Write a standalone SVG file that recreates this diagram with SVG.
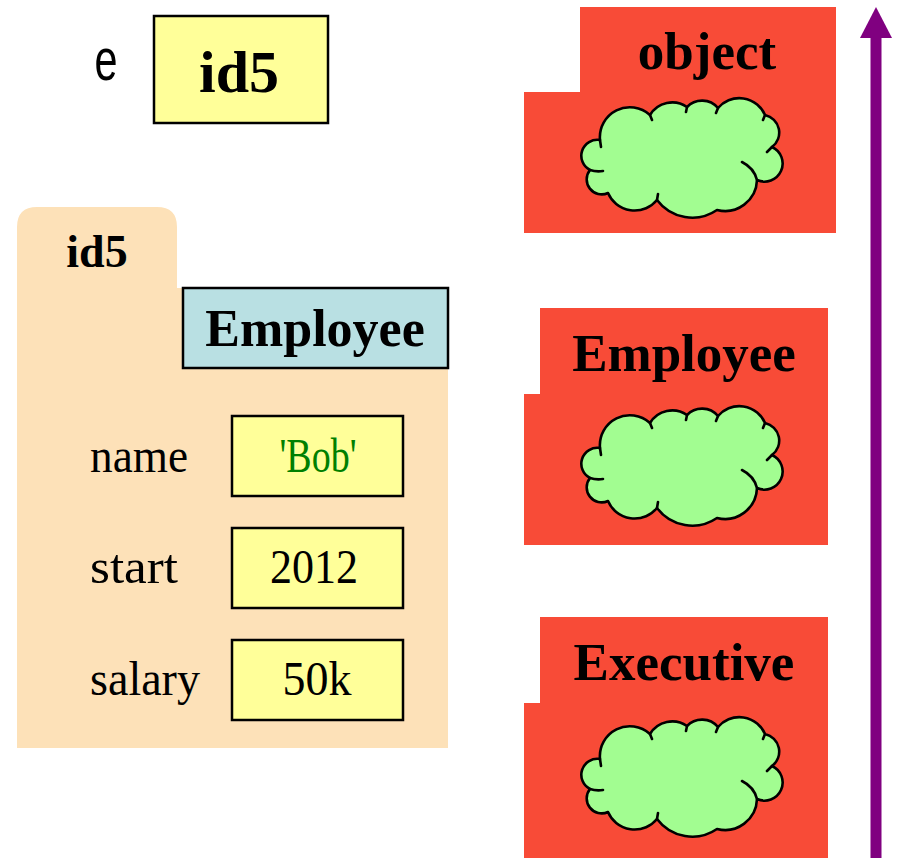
<svg xmlns="http://www.w3.org/2000/svg" xmlns:xlink="http://www.w3.org/1999/xlink" width="899" height="858" viewBox="0 0 899 858">
<style>
.bold{font-family:"Liberation Serif","Times New Roman",serif;font-weight:bold;fill:#000;text-anchor:middle}
.tw{font-family:"Liberation Serif","Times New Roman",serif;font-size:48px;fill:#000}
.val{fill:#FFFF99;stroke:#000;stroke-width:2.5}
.cls{fill:#F84B37}
.cloud{fill:#A2FD91;stroke:#000;stroke-width:2.6;stroke-linejoin:round}
.tick{fill:none;stroke:#000;stroke-width:2.6;stroke-linecap:round}
</style>
<defs>
<g id="cloudShape">
<path class="cloud" d="M20,42 A30,30 0 0 1 70,17 A26,26 0 0 1 107,9 A21,21 0 0 1 138,10 A28,28 0 0 1 185,17 A18,18 0 0 1 192,49 A18,18 0 0 1 177,82 A32,32 0 0 1 137,112 A44,44 0 0 1 77,102 A29,29 0 0 1 28,95 A15,15 0 0 1 10,72 A16,16 0 0 1 20,42 Z"/>
<path class="tick" d="M10,72 Q16,74 23,73 M162,64 Q174,70 177,82 M70,17 L72,22 M107,9 L106,14 M138,10 L136,15 M185,17 L183,22 M77,102 L78,96 M192,49 L187,54 M20,42 L21,49"/>
</g>
</defs>

<g id="var-e">
<text x="106" y="80" font-family="'Liberation Sans',Arial,sans-serif" font-size="60" text-anchor="middle" textLength="23" lengthAdjust="spacingAndGlyphs">e</text>
<rect x="154" y="16" width="174" height="107" fill="#FFFF99" stroke="#000" stroke-width="2.5"/>
<text class="bold" x="239" y="92" font-size="60">id5</text>
</g>

<g id="folder-id5">
<path d="M17,748 L17,227 Q17,207 37,207 L157,207 Q177,207 177,227 L177,288 L448,288 L448,748 Z" fill="#FDE1B8"/>
<text class="bold" x="97" y="267" font-size="46">id5</text>
<rect x="183" y="288" width="265" height="80" fill="#B9E0E3" stroke="#000" stroke-width="2.5"/>
<text class="bold" x="315" y="346" font-size="52">Employee</text>
</g>

<g id="field-name">
<text class="tw" x="90" y="472" textLength="98" lengthAdjust="spacingAndGlyphs">name</text>
<rect class="val" x="232" y="416" width="171" height="80"/>
<text class="tw" x="318" y="472" text-anchor="middle" style="fill:#008000" textLength="77" lengthAdjust="spacingAndGlyphs">'Bob'</text>
</g>
<g id="field-start">
<text class="tw" x="90" y="583" textLength="88" lengthAdjust="spacingAndGlyphs">start</text>
<rect class="val" x="232" y="528" width="171" height="80"/>
<text class="tw" x="314" y="583" text-anchor="middle" textLength="88" lengthAdjust="spacingAndGlyphs">2012</text>
</g>
<g id="field-salary">
<text class="tw" x="90" y="695" textLength="110" lengthAdjust="spacingAndGlyphs">salary</text>
<rect class="val" x="232" y="640" width="171" height="80"/>
<text class="tw" x="317" y="695" text-anchor="middle" textLength="69" lengthAdjust="spacingAndGlyphs">50k</text>
</g>

<g id="class-object">
<path class="cls" d="M580,7 L836,7 L836,233 L524,233 L524,92 L580,92 Z"/>
<text class="bold" x="707" y="69" font-size="53">object</text>
<use xlink:href="#cloudShape" href="#cloudShape" x="580" y="98"/>
</g>

<g id="class-employee">
<path class="cls" d="M540,308 L828,308 L828,545 L524,545 L524,394 L540,394 Z"/>
<text class="bold" x="684" y="371" font-size="53">Employee</text>
<use xlink:href="#cloudShape" href="#cloudShape" x="580" y="406"/>
</g>

<g id="class-executive">
<path class="cls" d="M540,617 L828,617 L828,858 L524,858 L524,703 L540,703 Z"/>
<text class="bold" x="684" y="680" font-size="53">Executive</text>
<use xlink:href="#cloudShape" href="#cloudShape" x="580" y="717"/>
</g>

<g id="connectors">
<line x1="876" y1="858" x2="876" y2="36" stroke="#800080" stroke-width="11"/>
<polygon points="876,7 892,38 860,38" fill="#800080"/>
</g>
</svg>
